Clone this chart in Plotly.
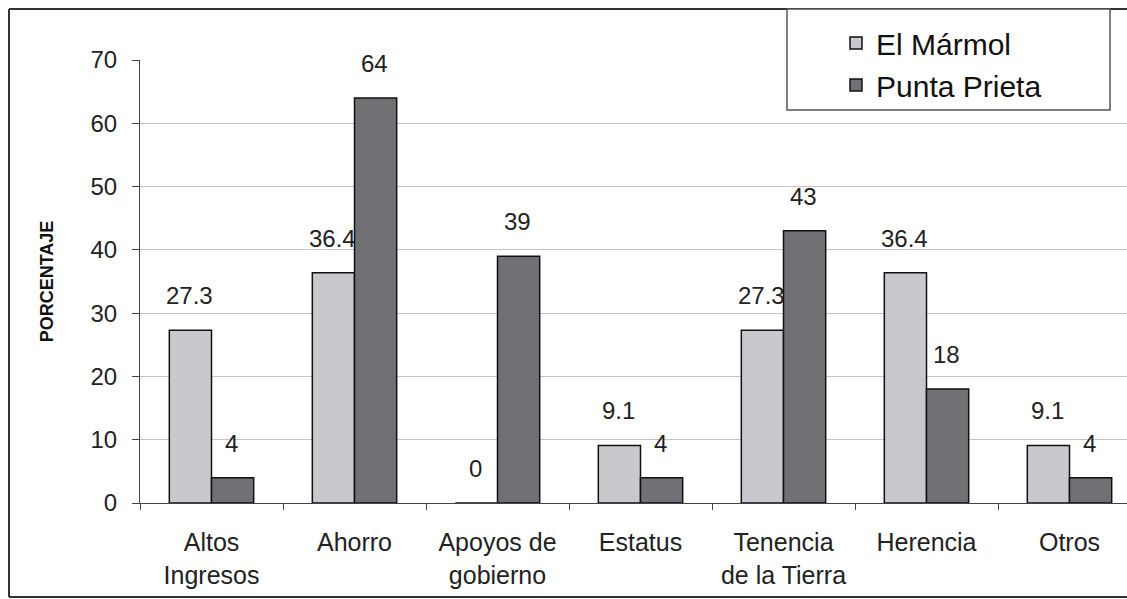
import plotly.graph_objects as go

categories = ["Altos<br>Ingresos", "Ahorro", "Apoyos de<br>gobierno", "Estatus",
              "Tenencia<br>de la Tierra", "Herencia", "Otros"]
el_marmol = [27.3, 36.4, 0, 9.1, 27.3, 36.4, 9.1]
punta_prieta = [4, 64, 39, 4, 43, 18, 4]
series_names = ["El Mármol", "Punta Prieta"]
y_ticks = [0, 10, 20, 30, 40, 50, 60, 70]

FONT = "Arial, Liberation Sans, sans-serif"
W, H = 1127, 599
L = 140
T = 60
PLOT_BOTTOM = 503
B = H - PLOT_BOTTOM
PW, PH = W - L, H - T - B
CAT_PX = 143.0
x_hi = -0.5 + PW / CAT_PX


def px_to_paper_x(px):  # px in screenshot coords
    return (px - L) / PW


def px_to_paper_y(py):
    return (PLOT_BOTTOM - py) / PH


fig = go.Figure()
fig.add_trace(go.Bar(name=series_names[0], x=categories, y=el_marmol,
                     marker=dict(color="#c9c9cd", line=dict(color="#111", width=1.5))))
fig.add_trace(go.Bar(name=series_names[1], x=categories, y=punta_prieta,
                     marker=dict(color="#707075", line=dict(color="#111", width=1.5))))

for vals, shift in ((el_marmol, -22), (punta_prieta, 20)):
    for c, v in zip(categories, vals):
        fig.add_annotation(x=c, y=v, text=f"{v:g}", showarrow=False, xshift=shift,
                           yshift=19, yanchor="bottom",
                           font=dict(family=FONT, size=24, color="#222"))

# outer frame: top, left and bottom edges (right side runs off the page)
frame = dict(color="#333", width=2)
xl, xr = px_to_paper_x(9), px_to_paper_x(1127)
yt, yb = px_to_paper_y(9), px_to_paper_y(597)
fig.add_shape(type="line", xref="paper", yref="paper", x0=xl, x1=xr, y0=yt, y1=yt,
              line=frame, layer="below")
fig.add_shape(type="line", xref="paper", yref="paper", x0=xl, x1=xl, y0=yt, y1=yb,
              line=frame, layer="below")
fig.add_shape(type="line", xref="paper", yref="paper", x0=xl, x1=xr, y0=yb, y1=yb,
              line=frame, layer="below")
# legend box
fig.add_shape(type="rect", xref="paper", yref="paper",
              x0=px_to_paper_x(787), x1=px_to_paper_x(1110),
              y0=px_to_paper_y(110), y1=px_to_paper_y(9),
              line=dict(color="#555", width=1.5), fillcolor="white", layer="above")

fig.update_layout(
    width=W, height=H,
    margin=dict(l=L, r=0, t=T, b=B),
    paper_bgcolor="white", plot_bgcolor="white",
    barmode="group", bargap=0.41, bargroupgap=0,
    font=dict(family=FONT, size=24, color="#222"),
    showlegend=True,
    legend=dict(x=px_to_paper_x(836), y=px_to_paper_y(17), xanchor="left", yanchor="top",
                bgcolor="rgba(0,0,0,0)", borderwidth=0,
                font=dict(family=FONT, size=30, color="#111"),
                tracegroupgap=0, itemwidth=30),
    xaxis=dict(range=[-0.5, x_hi], showline=True, linecolor="#444", linewidth=1,
               ticks="outside", tickson="boundaries", ticklen=6, tickcolor="#444",
               ticklabelstandoff=17,
               tickfont=dict(family=FONT, size=25, color="#222"), showgrid=False),
    yaxis=dict(range=[0, 70], tickvals=y_ticks, showline=True, linecolor="#444", linewidth=1,
               ticks="outside", ticklen=7, tickcolor="#444", ticklabelstandoff=10,
               tickfont=dict(family=FONT, size=24, color="#222"),
               showgrid=True, gridcolor="#c4c4c4", gridwidth=1, zeroline=False,
               title=dict(text="<b>PORCENTAJE</b>", standoff=32,
                          font=dict(family=FONT, size=18, color="#111"))),
)

fig.write_html("out.html", config={"displayModeBar": False},
               post_script="document.body.style.margin='0';document.body.style.overflow='hidden';")
